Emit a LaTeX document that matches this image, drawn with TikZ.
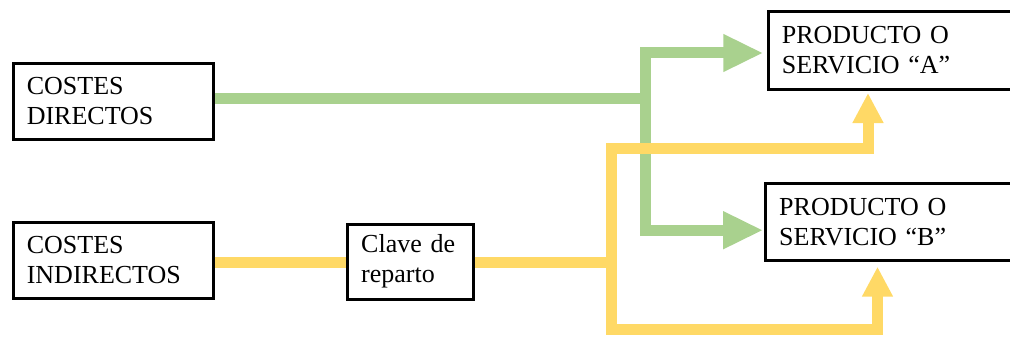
\documentclass[tikz,border=0pt]{standalone}
\usepackage{fontspec}
\setmainfont{Liberation Serif}
\usetikzlibrary{arrows.meta}
\definecolor{flowgreen}{HTML}{A9D18E}
\definecolor{flowyellow}{HTML}{FFD966}
\begin{document}
\begin{tikzpicture}[x=1pt,y=-1pt,
  box/.style={draw=black, line width=3pt, fill=white, inner xsep=13.5pt, inner ysep=0pt,
    align=left, font=\fontsize{26pt}{30pt}\selectfont},
  gline/.style={draw=flowgreen, line width=11pt},
  yline/.style={draw=flowyellow, line width=11pt},
  garrow/.style={gline, -{Triangle[length=40pt,width=35pt]}},
  yarrow/.style={yline, -{Triangle[length=30pt,width=29pt]}}]
\useasboundingbox (0,0) rectangle (1010,337);

% cost sources
\node[box, minimum width=200pt, minimum height=76pt, text width=173pt] (cd) at (113.3,101.2) {COSTES\\DIRECTOS};
\node[box, minimum width=200pt, minimum height=76pt, text width=173pt] (ci) at (113.3,260.3) {COSTES\\INDIRECTOS};
\node[box, minimum width=125.6pt, minimum height=75pt, text width=98.6pt] (kv) at (410.5,261.5) {Clave de\\reparto};

% products (running off the right edge)
\node[box, minimum width=260pt, minimum height=78pt, text width=233pt] (pa) at (898.3,50.5) {PRODUCTO O\\SERVICIO “A”};
\node[box, minimum width=260pt, minimum height=77pt, text width=233pt] (pb) at (895.7,221.7) {PRODUCTO O\\SERVICIO “B”};

% junctions and bends
\coordinate (jg) at (645.5,98.5);
\coordinate (jy) at (611,262);
\coordinate (ya) at (868,148.5);
\coordinate (yb) at (877.5,329);

% direct costs
\draw[gline] (cd.east |- jg) -- (jg);
\draw[garrow, shorten >=3.5pt] (jg) |- ([yshift=-2.5pt]pa.west);
\draw[garrow, shorten >=1pt] (jg) |- ([yshift=-8.5pt]pb.west);

% indirect costs
\draw[yline] (ci.east |- jy) -- (kv.west |- jy);
\draw[yline] (kv.east |- jy) -- (jy);
\draw[yarrow, shorten >=2pt] (jy) |- (ya) -- (ya |- pa.south);
\draw[yarrow, shorten >=5pt] (jy) |- (yb) -- (yb |- pb.south);
\end{tikzpicture}
\end{document}
